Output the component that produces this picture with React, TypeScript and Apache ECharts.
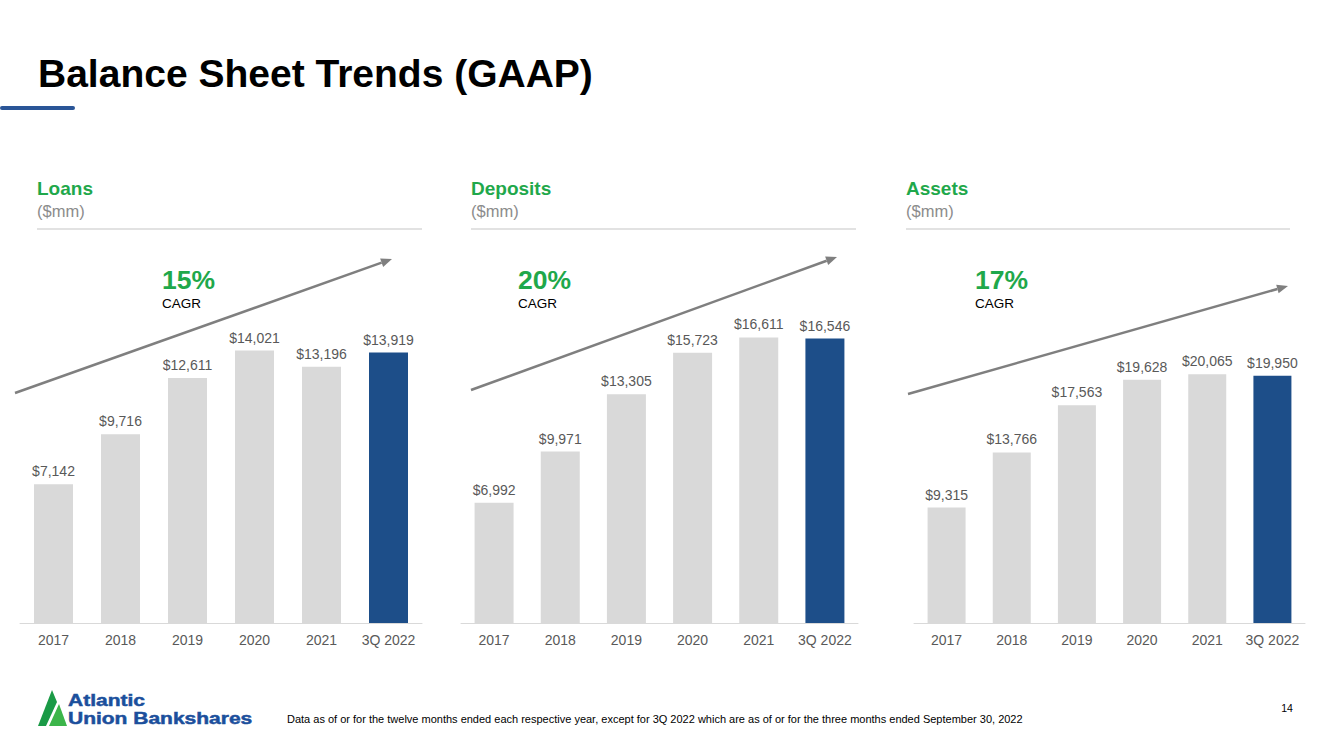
import React, { useEffect, useRef } from "react";
import * as echarts from "echarts";

const categories = ["2017", "2018", "2019", "2020", "2021", "3Q 2022"];
const loans = [7142, 9716, 12611, 14021, 13196, 13919];
const deposits = [6992, 9971, 13305, 15723, 16611, 16546];
const assets = [9315, 13766, 17563, 19628, 20065, 19950];
const panelTitles = ["Loans", "Deposits", "Assets"];
const cagrs = ["15%", "20%", "17%"];

const GREY = "#d9d9d9";
const BLUE = "#1d4e89";
const GREEN = "#1fa84b";
const FONT = "'Liberation Sans', Arial, sans-serif";

function arrow(x1: number, y1: number, x2: number, y2: number) {
  const dx = x2 - x1;
  const dy = y2 - y1;
  const len = Math.sqrt(dx * dx + dy * dy);
  const ux = dx / len;
  const uy = dy / len;
  const hl = 11;
  const hw = 4.5;
  const bx = x2 - ux * hl;
  const by = y2 - uy * hl;
  return [
    {
      type: "line",
      shape: { x1, y1, x2: bx, y2: by },
      style: { stroke: "#7f7f7f", lineWidth: 2.5 },
    },
    {
      type: "polygon",
      shape: {
        points: [
          [x2, y2],
          [bx - uy * hw, by + ux * hw],
          [bx + uy * hw, by - ux * hw],
        ],
      },
      style: { fill: "#7f7f7f" },
    },
  ];
}

export default function App() {
  const ref = useRef<HTMLDivElement>(null);

  useEffect(() => {
    if (!ref.current) return;
    const chart = echarts.init(ref.current, undefined, { renderer: "svg" });

    const panels = [
      { data: loans, left: 20, width: 402, max: 19200, barWidth: 39, tx: 37, sepEnd: 422, cx: 162, arr: [15, 393, 392, 259] },
      { data: deposits, left: 461, width: 397, max: 21700, barWidth: 39, tx: 471, sepEnd: 856, cx: 518, arr: [471, 390, 837, 257] },
      { data: assets, left: 914, width: 391, max: 30100, barWidth: 38, tx: 906, sepEnd: 1290, cx: 975, arr: [908, 394, 1288, 286] },
    ];

    const grids = panels.map((p) => ({ left: p.left, width: p.width, top: 250, height: 373 }));
    const xAxes = panels.map((p, i) => ({
      type: "category",
      gridIndex: i,
      data: categories,
      axisLine: { show: true, lineStyle: { color: "#d9d9d9", width: 1 } },
      axisTick: { show: false },
      axisLabel: { color: "#595959", fontSize: 14, fontFamily: FONT, margin: 10, interval: 0 },
    }));
    const yAxes = panels.map((p, i) => ({
      type: "value",
      gridIndex: i,
      min: 0,
      max: p.max,
      show: false,
      splitLine: { show: false },
    }));
    const series = panels.map((p, i) => ({
      type: "bar",
      xAxisIndex: i,
      yAxisIndex: i,
      barWidth: p.barWidth,
      data: p.data.map((v, j) => ({
        value: v,
        itemStyle: { color: j === p.data.length - 1 ? BLUE : GREY },
      })),
      label: {
        show: true,
        position: "top",
        distance: 6,
        color: "#595959",
        fontSize: 14,
        fontFamily: FONT,
        formatter: (d: any) => "$" + Number(d.value).toLocaleString("en-US"),
      },
    }));

    const graphics: any[] = [
      {
        type: "text",
        x: 38,
        y: 73,
        style: {
          text: "Balance Sheet Trends (GAAP)",
          fontSize: 39,
          fontWeight: "bold",
          fontFamily: FONT,
          fill: "#000000",
          verticalAlign: "middle",
        },
      },
      {
        type: "rect",
        shape: { x: 0, y: 106, width: 75, height: 4, r: 2 },
        style: { fill: "#2a5597" },
      },
    ];

    panels.forEach((p, i) => {
      graphics.push(
        {
          type: "text",
          x: p.tx,
          y: 188,
          style: { text: panelTitles[i], fontSize: 19, fontWeight: "bold", fontFamily: FONT, fill: GREEN, verticalAlign: "middle" },
        },
        {
          type: "text",
          x: p.tx,
          y: 211,
          style: { text: "($mm)", fontSize: 16.5, fontFamily: FONT, fill: "#8c8c8c", verticalAlign: "middle" },
        },
        {
          type: "line",
          shape: { x1: p.tx, y1: 229, x2: p.sepEnd, y2: 229 },
          style: { stroke: "#d9d9d9", lineWidth: 1.5 },
        },
        {
          type: "text",
          x: p.cx,
          y: 280,
          style: { text: cagrs[i], fontSize: 26.5, fontWeight: "bold", fontFamily: FONT, fill: GREEN, verticalAlign: "middle" },
        },
        {
          type: "text",
          x: p.cx,
          y: 303,
          style: { text: "CAGR", fontSize: 13.5, fontFamily: FONT, fill: "#000000", verticalAlign: "middle" },
        },
        ...arrow(p.arr[0], p.arr[1], p.arr[2], p.arr[3])
      );
    });

    graphics.push(
      {
        type: "polygon",
        shape: { points: [[38, 726], [52, 690], [57, 702], [46, 726]] },
        style: { fill: "#1a9a46" },
      },
      {
        type: "polygon",
        shape: { points: [[49, 726], [59, 704], [67, 726]] },
        style: { fill: "#3cb54a" },
      },
      {
        type: "text",
        x: 68,
        y: 700,
        scaleX: 1.0,
        scaleY: 0.8,
        style: { text: "Atlantic", fontSize: 21, fontWeight: "bold", fontFamily: FONT, fill: "#1b4f9c", verticalAlign: "middle", stroke: "#1b4f9c", lineWidth: 0.6 },
      },
      {
        type: "text",
        x: 68,
        y: 718,
        scaleX: 1.0,
        scaleY: 0.8,
        style: { text: "Union Bankshares", fontSize: 21, fontWeight: "bold", fontFamily: FONT, fill: "#1b4f9c", verticalAlign: "middle", stroke: "#1b4f9c", lineWidth: 0.6 },
      },
      {
        type: "text",
        x: 287,
        y: 719,
        style: {
          text: "Data as of or for the twelve months ended each respective year, except for 3Q 2022 which are as of or for the three months ended September 30, 2022",
          fontSize: 11,
          fontFamily: FONT,
          fill: "#000000",
          verticalAlign: "middle",
        },
      },
      {
        type: "text",
        x: 1287,
        y: 708,
        style: { text: "14", fontSize: 10.5, fontFamily: FONT, fill: "#000000", align: "center", verticalAlign: "middle" },
      }
    );

    chart.setOption({
      animation: false,
      backgroundColor: "#ffffff",
      grid: grids,
      xAxis: xAxes,
      yAxis: yAxes,
      series,
      graphic: graphics,
    });

    return () => chart.dispose();
  }, []);

  return (
    <div
      ref={ref}
      style={{ position: "fixed", left: 0, top: 0, width: 1333, height: 749, background: "#ffffff" }}
    />
  );
}
